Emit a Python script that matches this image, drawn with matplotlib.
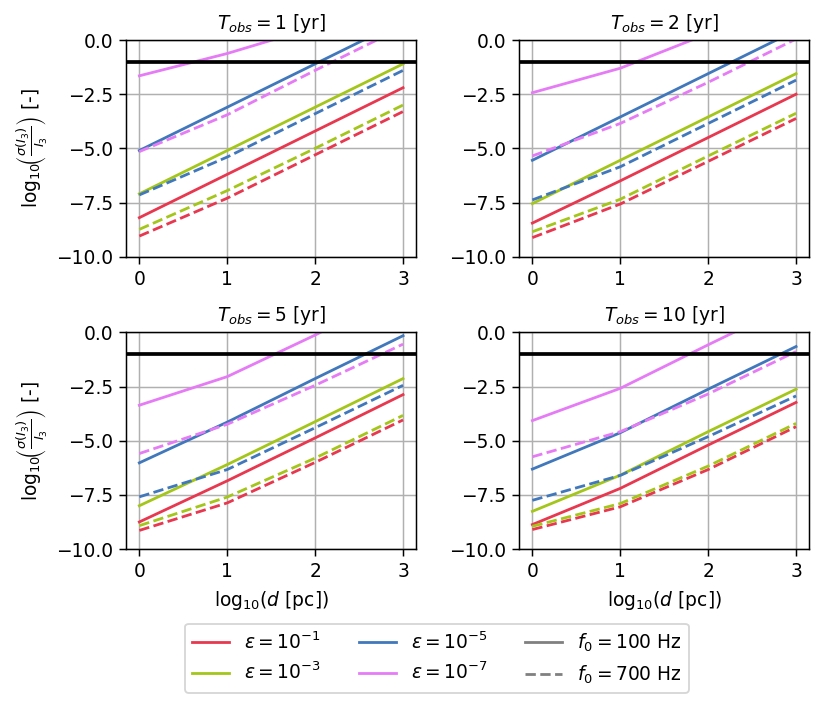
import numpy as np
import matplotlib
matplotlib.use('Agg')
import matplotlib.pyplot as plt
from matplotlib.lines import Line2D

# log10(d [pc])
log_d = [0, 1, 2, 3]

t_obs = [1, 2, 5, 10]
eps_labels = [r'$\varepsilon = 10^{-1}$', r'$\varepsilon = 10^{-3}$',
              r'$\varepsilon = 10^{-5}$', r'$\varepsilon = 10^{-7}$']
colori = ['#e8384f', '#a4c61a', '#4178bc', '#e57cf5']

# log10(sigma(I3)/I3), f0 = 100 Hz, per T_obs, per epsilon
sol_100 = {
    1: [[-8.2, -6.2, -4.2, -2.2],
        [-7.1, -5.1, -3.1, -1.1],
        [-5.1, -3.1, -1.1, 0.9],
        [-1.65, -0.62, 0.6, 2.6]],
    2: [[-8.45, -6.5, -4.5, -2.5],
        [-7.55, -5.55, -3.55, -1.55],
        [-5.55, -3.55, -1.55, 0.45],
        [-2.43, -1.3, 0.3, 2.3]],
    5: [[-8.75, -6.85, -4.87, -2.87],
        [-8.0, -6.1, -4.12, -2.13],
        [-6.02, -4.14, -2.13, -0.15],
        [-3.36, -2.04, -0.12, 1.9]],
    10: [[-8.87, -7.2, -5.2, -3.23],
         [-8.26, -6.59, -4.58, -2.62],
         [-6.31, -4.63, -2.62, -0.65],
         [-4.07, -2.58, -0.57, 1.4]],
}

# f0 = 700 Hz
sol_700 = {
    1: [[-9.05, -7.3, -5.3, -3.3],
        [-8.74, -6.95, -5.0, -3.0],
        [-7.15, -5.4, -3.4, -1.4],
        [-5.15, -3.45, -1.4, 0.6]],
    2: [[-9.12, -7.57, -5.6, -3.62],
        [-8.85, -7.35, -5.35, -3.38],
        [-7.38, -5.85, -3.85, -1.85],
        [-5.35, -3.85, -1.95, 0.05]],
    5: [[-9.14, -7.87, -6.0, -4.04],
        [-8.92, -7.6, -5.8, -3.83],
        [-7.59, -6.33, -4.4, -2.44],
        [-5.59, -4.24, -2.44, -0.54]],
    10: [[-9.1, -8.05, -6.33, -4.35],
         [-8.95, -7.9, -6.17, -4.2],
         [-7.75, -6.6, -4.81, -2.93],
         [-5.74, -4.58, -2.84, -0.88]],
}

soglia = -1.0

dpi = 134
fig, axs = plt.subplots(2, 2, figsize=(830/dpi, 703/dpi), dpi=dpi)
fig.subplots_adjust(left=0.152, right=0.975, top=0.943, bottom=0.219,
                    wspace=0.355, hspace=0.35)

for k, T in enumerate(t_obs):
    ax = axs.flat[k]
    for i in range(4):
        ax.plot(log_d, sol_100[T][i], color=colori[i], ls='-')
        ax.plot(log_d, sol_700[T][i], color=colori[i], ls='--')
    ax.axhline(soglia, color='k', lw=2)
    ax.set_ylim(-10, 0)
    ax.set_xticks([0, 1, 2, 3])
    ax.set_yticks([0, -2.5, -5, -7.5, -10])
    ax.grid(True)
    ax.set_title(r'$T_{obs} = %d$ [yr]' % T, fontsize=10)
    if k % 2 == 0:
        ax.set_ylabel(r'log$_{10}\!\left(\frac{\sigma(I_3)}{I_3}\right)$ [-]')
    if k >= 2:
        ax.set_xlabel(r'log$_{10}$($d$ [pc])')

handles = [Line2D([0], [0], color=c, ls='-') for c in colori]
handles += [Line2D([0], [0], color='gray', ls='-'),
            Line2D([0], [0], color='gray', ls='--')]
labels = eps_labels + [r'$f_0 = 100$ Hz', r'$f_0 = 700$ Hz']
fig.legend(handles, labels, ncol=3, loc='upper center',
           bbox_to_anchor=(0.5265, 0.126))

fig.savefig('out.png', dpi=dpi)
